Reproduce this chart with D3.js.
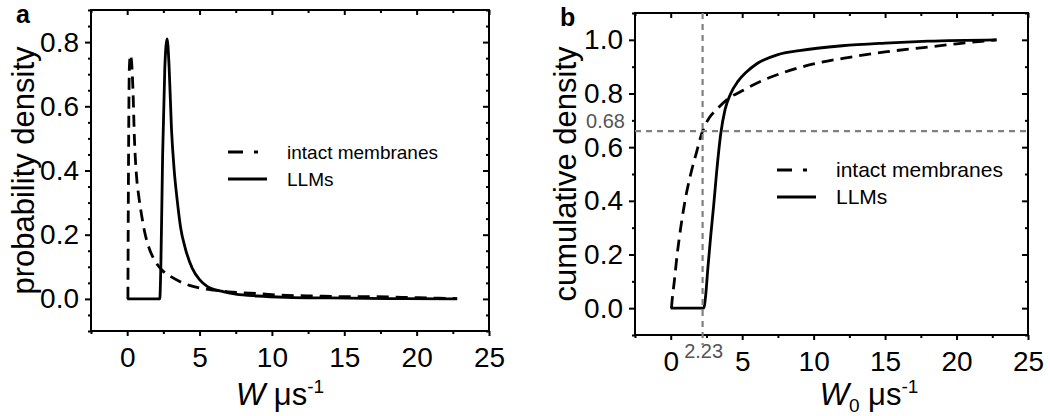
<!DOCTYPE html>
<html>
<head>
<meta charset="utf-8">
<script src="https://cdn.jsdelivr.net/npm/d3@7"></script>
<style>
  body { margin: 0; background: #fff; }
  svg text { font-family: "Liberation Sans", Arial, Helvetica, sans-serif; fill: #000; }
  .tick text { font-size: 28px; }
  .title { font-size: 31px; }
  .panel { font-size: 25px; font-weight: bold; }
  .note { font-size: 20px; fill: #555; }
</style>
</head>
<body>
<svg id="fig" width="1050" height="416"></svg>
<script>
// panel a: probability density
const pdfIntactW = [0.05, 0.09, 0.15, 0.22, 0.3, 0.4, 0.5, 0.65, 0.8, 1.0, 1.2, 1.5, 1.9, 2.4, 3.0, 3.6, 4.3, 5.2, 6.0, 7.0, 8.5, 10.5, 13, 15, 17, 19, 21.5, 22.8]
const pdfIntactP = [0, 0.4, 0.72, 0.76, 0.74, 0.65, 0.5, 0.38, 0.32, 0.26, 0.21, 0.16, 0.12, 0.09, 0.07, 0.055, 0.042, 0.032, 0.027, 0.022, 0.018, 0.012, 0.009, 0.007, 0.007, 0.005, 0.002, 0.001]
const pdfLLMW = [0, 2.25, 2.33, 2.45, 2.6, 2.76, 2.9, 3.06, 3.25, 3.45, 3.7, 4.0, 4.5, 5.0, 5.5, 6.5, 7.5, 9, 11, 14, 18, 22.8]
const pdfLLMP = [0, 0, 0.11, 0.45, 0.72, 0.81, 0.72, 0.53, 0.4, 0.31, 0.22, 0.16, 0.095, 0.06, 0.04, 0.024, 0.015, 0.009, 0.005, 0.003, 0.001, 0]

// panel b: cumulative density
const cdfIntactW = [0.05, 0.1, 0.25, 0.45, 0.7, 1.0, 1.4, 1.8, 2.23, 2.7, 3.2, 4.0, 5.0, 6.5, 8, 10, 12.5, 15, 17.5, 20, 22.8]
const cdfIntactP = [0, 0.03, 0.1, 0.2, 0.3, 0.4, 0.5, 0.58, 0.66, 0.71, 0.74, 0.78, 0.81, 0.85, 0.88, 0.91, 0.935, 0.955, 0.97, 0.985, 1.0]
const cdfLLMW = [0, 2.3, 2.45, 2.6, 2.8, 3.0, 3.2, 3.5, 3.8, 4.2, 4.7, 5.3, 6.0, 7.5, 9, 12, 15, 18, 22.8]
const cdfLLMP = [0, 0, 0.05, 0.15, 0.27, 0.38, 0.5, 0.65, 0.74, 0.8, 0.845, 0.88, 0.91, 0.945, 0.96, 0.978, 0.988, 0.995, 1.0]

const xTicks = [0, 5, 10, 15, 20, 25]
const xMinor = [-2.5, 2.5, 7.5, 12.5, 17.5, 22.5]
const yTicksA = [0.0, 0.2, 0.4, 0.6, 0.8]
const yTicksB = [0.0, 0.2, 0.4, 0.6, 0.8, 1.0]
const seriesNames = ["intact membranes", "LLMs"]

const markW = 2.23   // vertical marker in b
const markP = 0.66   // horizontal marker in b
const markLabelW = "2.23"
const markLabelP = "0.68"

const svg = d3.select("#fig")

function panel(box, xDomain, yDomain, yTicks, yMinorStep, series, legendPos, legendSize, letter, yTitle, xTitle)
{
    let x = d3.scaleLinear().domain(xDomain).range([box.l, box.r])
    let y = d3.scaleLinear().domain(yDomain).range([box.b, box.t])
    let g = svg.append("g")
    let cumulative = yDomain[1] > 1

    let yMinor = d3.range(yDomain[0], yDomain[1] + 1e-9, yMinorStep).map(v => +v.toFixed(3))
        .filter(v => !yTicks.some(t => Math.abs(t - v) < 1e-6))

    function ax(axisFn, scale, vals, size, fmt, tr, pad = 6) {
        g.append("g").attr("transform", tr)
            .call(axisFn(scale).tickValues(vals).tickSizeInner(size).tickSizeOuter(0).tickPadding(pad).tickFormat(fmt))
            .call(s => s.select(".domain").remove())
            .call(s => s.selectAll("line").attr("stroke", "#000").attr("stroke-width", 2))
    }
    // bottom / left: outward ticks with labels
    ax(d3.axisBottom, x, xTicks, 5, d3.format("d"), `translate(0,${box.b})`, 11)
    ax(d3.axisBottom, x, xMinor, 3, "", `translate(0,${box.b})`)
    ax(d3.axisLeft, y, yTicks, 6, d3.format(".1f"), `translate(${box.l},0)`)
    ax(d3.axisLeft, y, yMinor, 3, "", `translate(${box.l},0)`)
    // top / right: inward ticks
    ax(d3.axisTop, x, xTicks, -5, "", `translate(0,${box.t})`)
    ax(d3.axisTop, x, xMinor, -3, "", `translate(0,${box.t})`)
    ax(d3.axisRight, y, yTicks, -6, "", `translate(${box.r},0)`)
    ax(d3.axisRight, y, yMinor, -3, "", `translate(${box.r},0)`)

    g.selectAll(".tick text").attr("fill", "#000")

    g.append("rect").attr("x", box.l).attr("y", box.t)
        .attr("width", box.r - box.l).attr("height", box.b - box.t)
        .attr("fill", "none").attr("stroke", "#000").attr("stroke-width", 2)

    let line = d3.line().x(d => x(d[0])).y(d => y(d[1])).curve(d3.curveMonotoneX)
    series.forEach(function (s) {
        g.append("path")
            .datum(d3.zip(s.w, s.p))
            .attr("d", line)
            .attr("fill", "none")
            .attr("stroke", "#000")
            .attr("stroke-width", 2.8)
            .attr("stroke-dasharray", s.dash)
    })

    // legend
    seriesNames.forEach(function (name, i) {
        let ly = legendPos[1] + i * 27
        g.append("line")
            .attr("x1", legendPos[0]).attr("x2", legendPos[0] + 39)
            .attr("y1", ly).attr("y2", ly)
            .attr("stroke", "#000").attr("stroke-width", 2.8)
            .attr("stroke-dasharray", i == 0 ? "15,11,4,100" : null)
        g.append("text").attr("font-size", legendSize)
            .attr("x", legendPos[0] + 59).attr("y", ly + 7).text(name)
    })

    g.append("text").attr("class", "panel")
        .attr("x", box.l - 75).attr("y", box.t + 13).text(letter)

    let cy = (box.t + box.b) / 2
    g.append("text").attr("class", "title")
        .attr("transform", `translate(${yTitle},${cy}) rotate(-90)`)
        .attr("text-anchor", "middle")
        .text(cumulative ? "cumulative density" : "probability density")

    let t = g.append("text").attr("class", "title")
        .attr("x", xTitle[0]).attr("y", xTitle[1]).attr("text-anchor", "middle")
    t.append("tspan").attr("font-style", "italic").text("W")
    if (cumulative) t.append("tspan").attr("font-size", 19).attr("dy", 7).text("0")
    t.append("tspan").attr("dy", cumulative ? -7 : 0).text(" \u03bcs")
    t.append("tspan").attr("font-size", 19).attr("dy", -12).text("-1")

    return {x: x, y: y, g: g}
}

let A = panel({l: 91, r: 489, t: 10, b: 331}, [-2.5, 25], [-0.1, 0.9], yTicksA, 0.05,
    [{w: pdfIntactW, p: pdfIntactP, dash: "12,7"}, {w: pdfLLMW, p: pdfLLMP, dash: null}],
    [228, 152], 19, "a", 34, [280, 405])

let B = panel({l: 635, r: 1028, t: 13, b: 335}, [-2.5, 25], [-0.1, 1.1], yTicksB, 0.1,
    [{w: cdfIntactW, p: cdfIntactP, dash: "12,7"}, {w: cdfLLMW, p: cdfLLMP, dash: null}],
    [777, 170], 21, "b", 576, [869, 405])

// gray marker lines in panel b
B.g.append("line")
    .attr("x1", B.x(markW)).attr("x2", B.x(markW))
    .attr("y1", 13).attr("y2", 345)
    .attr("stroke", "#808080").attr("stroke-width", 2.2).attr("stroke-dasharray", "6,5")
B.g.append("line")
    .attr("x1", 635).attr("x2", 1028)
    .attr("y1", B.y(markP)).attr("y2", B.y(markP))
    .attr("stroke", "#808080").attr("stroke-width", 2.2).attr("stroke-dasharray", "6,5")
B.g.append("text").attr("class", "note")
    .attr("x", 625).attr("y", B.y(markP) - 3).attr("text-anchor", "end").text(markLabelP)
B.g.append("text").attr("class", "note")
    .attr("x", B.x(markW) + 1).attr("y", 358).attr("text-anchor", "middle").text(markLabelW)
</script>
</body>
</html>
